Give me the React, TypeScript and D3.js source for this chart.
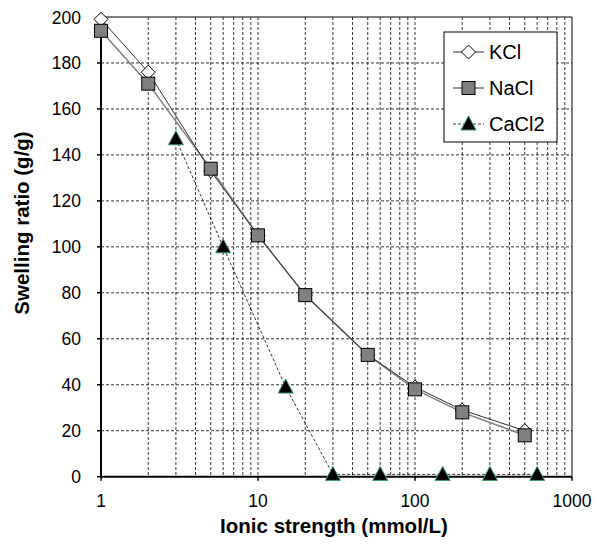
import React from "react";
import * as d3 from "d3";

const kclX = [1, 2, 5, 10, 20, 50, 100, 200, 500];
const kclY = [199, 176, 133, 105, 79, 53, 39, 29, 20];
const naclX = [1, 2, 5, 10, 20, 50, 100, 200, 500];
const naclY = [194, 171, 134, 105, 79, 53, 38, 28, 18];
const caclX = [3, 6, 15, 30, 60, 150, 300, 600];
const caclY = [147, 100, 39, 1, 1, 1, 1, 1];
const xTicks = [1, 10, 100, 1000];
const yTicks = [0, 20, 40, 60, 80, 100, 120, 140, 160, 180, 200];

const W = 595, H = 544;
const L = 101, R = 572, T = 17, B = 476.7;
const FONT = "Liberation Sans, Arial, sans-serif";

export default function App() {
  const x = d3.scaleLog().domain([1, 1000]).range([L, R]);
  const y = d3.scaleLinear().domain([0, 200]).range([B, T]);
  const minor: number[] = [];
  for (const d of [1, 10, 100]) for (let k = 2; k <= 9; k++) minor.push(d * k);
  const line = d3.line<[number, number]>().x(p => x(p[0])).y(p => y(p[1]));
  const kcl = kclX.map((v, i) => [v, kclY[i]] as [number, number]);
  const nacl = naclX.map((v, i) => [v, naclY[i]] as [number, number]);
  const cacl = caclX.map((v, i) => [v, caclY[i]] as [number, number]);
  const diamond = (cx: number, cy: number, k: string | number) => (
    <path key={k} d={`M${cx},${cy - 7}L${cx + 7},${cy}L${cx},${cy + 7}L${cx - 7},${cy}Z`} fill="#fff" stroke="#000" strokeWidth={1} />
  );
  const square = (cx: number, cy: number, k: string | number) => (
    <rect key={k} x={cx - 6.5} y={cy - 6.5} width={13} height={13} fill="#808080" stroke="#000" strokeWidth={1} />
  );
  const tri = (cx: number, cy: number, k: string | number) => (
    <path key={k} d={`M${cx},${cy - 8}L${cx + 7.5},${cy + 6}L${cx - 7.5},${cy + 6}Z`} fill="#000" stroke="#3f9a6a" strokeWidth={1} />
  );
  return (
    <svg width={W} height={H} style={{ position: "absolute", left: 0, top: 0 }} fontFamily={FONT}>
      <rect width={W} height={H} fill="#fff" />
      {[...minor, 10, 100].map((v, i) => (
        <line key={"gx" + i} x1={x(v)} x2={x(v)} y1={T} y2={B} stroke="#000" strokeWidth={0.8} strokeDasharray="3,2" />
      ))}
      {yTicks.filter(v => v > 0 && v < 200).map((v, i) => (
        <line key={"gy" + i} x1={L} x2={R} y1={y(v)} y2={y(v)} stroke="#000" strokeWidth={0.8} strokeDasharray="3,2" />
      ))}
      <line x1={L} x2={R} y1={T} y2={T} stroke="#000" strokeWidth={1} />
      <line x1={R} x2={R} y1={T} y2={B} stroke="#000" strokeWidth={1} />
      <line x1={L} x2={L} y1={T} y2={B} stroke="#000" strokeWidth={2} />
      <line x1={L} x2={R} y1={B} y2={B} stroke="#000" strokeWidth={2} />
      {yTicks.map((v, i) => (
        <g key={"yt" + i}>
          <line x1={L - 4} x2={L} y1={y(v)} y2={y(v)} stroke="#000" strokeWidth={1.5} />
          <text x={L - 20} y={y(v) + 6.5} textAnchor="end" fontSize={17.5}>{v}</text>
        </g>
      ))}
      {xTicks.map((v, i) => (
        <g key={"xt" + i}>
          <line x1={x(v)} x2={x(v)} y1={B} y2={B + 4} stroke="#000" strokeWidth={1.5} />
          <text x={x(v)} y={507} textAnchor="middle" fontSize={17.5}>{v}</text>
        </g>
      ))}
      <text x={334} y={533} textAnchor="middle" fontSize={20.5} fontWeight="bold">Ionic strength (mmol/L)</text>
      <text transform={`translate(29,${223}) rotate(-90)`} textAnchor="middle" fontSize={20.5} fontWeight="bold">Swelling ratio (g/g)</text>
      <path d={line(cacl) || ""} fill="none" stroke="#000" strokeWidth={0.8} strokeDasharray="3,2" />
      <path d={line(nacl) || ""} fill="none" stroke="#808080" strokeWidth={1.5} />
      <path d={line(kcl) || ""} fill="none" stroke="#303030" strokeWidth={1} />
      {kcl.map((p, i) => diamond(x(p[0]), y(p[1]), "k" + i))}
      {nacl.map((p, i) => square(x(p[0]), y(p[1]), "n" + i))}
      {cacl.map((p, i) => tri(x(p[0]), y(p[1]), "c" + i))}
      <rect x={444} y={32} width={113} height={110} fill="#fff" stroke="#000" strokeWidth={1} />
      <line x1={453} x2={484} y1={52} y2={52} stroke="#303030" strokeWidth={1} />
      {diamond(468.5, 52, "ld")}
      <text x={489} y={59} fontSize={20}>KCl</text>
      <line x1={453} x2={484} y1={88} y2={88} stroke="#303030" strokeWidth={1} />
      {square(468.5, 88, "ls")}
      <text x={489} y={95} fontSize={20}>NaCl</text>
      <line x1={453} x2={484} y1={124} y2={124} stroke="#000" strokeWidth={0.8} strokeDasharray="3,2" />
      {tri(468.5, 124, "lt")}
      <text x={489} y={131} fontSize={20}>CaCl2</text>
    </svg>
  );
}
